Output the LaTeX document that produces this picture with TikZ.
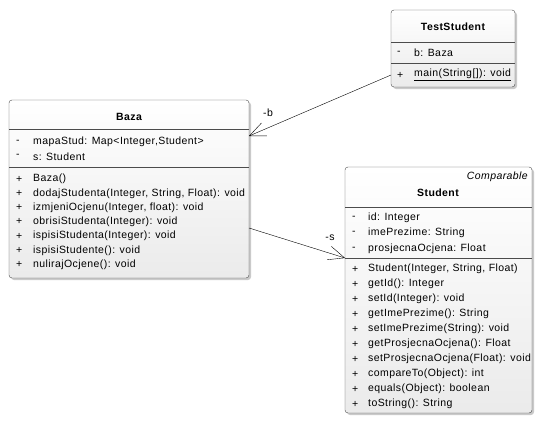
\documentclass[tikz,border=0pt]{standalone}
\usepackage{fontspec}
\setmainfont[LetterSpace=4]{Liberation Sans}
\usetikzlibrary{arrows.meta,shadows}

\tikzset{
  classbox/.style = {shape=rectangle, rounded corners=3pt, draw=black!70,
    inner sep=0pt, outer sep=0pt, anchor=north west,
    top color=white, bottom color=gray!16,
    drop shadow={shadow xshift=2pt, shadow yshift=-2pt, fill=gray!70, opacity=.6}},
  divider/.style = {draw=black!70},
  row/.style = {anchor=west, inner sep=0pt, font=\fontsize{10.5}{12}\selectfont},
  title/.style = {inner sep=0pt, font=\fontsize{10.5}{12}\selectfont\bfseries},
  role/.style = {inner sep=0pt, font=\fontsize{10.5}{12}\selectfont},
  assoc/.style = {draw, -{Straight Barb[length=16pt, width=14pt]}}
}

\begin{document}
\begin{tikzpicture}[x=1pt, y=-1pt]
  \useasboundingbox (0,0) rectangle (543,423);

  % TestStudent
  \node[classbox, minimum width=124pt, minimum height=77pt] (test) at (391,10) {};
  \node[title] (testname) at (453,27) {TestStudent};
  \draw[divider] (test.west |- 0,42) -- (test.east |- 0,42);
  \draw[divider] (test.west |- 0,63) -- (test.east |- 0,63);
  \node[row] (testv1) at (397,53) {-};
  \node[row] (testa1) at (414,53) {b: Baza};
  \node[row] (testv2) at (397,75) {+};
  \node[row] (testm1) at (414,75) {\underline{main(String[]): void}};

  % Baza
  \node[classbox, minimum width=240pt, minimum height=178pt] (baza) at (9,100) {};
  \node[title] (bazaname) at (129,117) {Baza};
  \draw[divider] (baza.west |- 0,129) -- (baza.east |- 0,129);
  \draw[divider] (baza.west |- 0,167) -- (baza.east |- 0,167);
  \foreach \txt [count=\i] in {{mapaStud: Map<Integer,Student>}, {s: Student}} {
    \node[row] at (16,127.7+14.3*\i) {-};
    \node[row] at (33,127.7+14.3*\i) {\txt};
  }
  \foreach \txt [count=\i] in {Baza(), {dodajStudenta(Integer, String, Float): void},
      {izmjeniOcjenu(Integer, float): void}, {obrisiStudenta(Integer): void},
      {ispisiStudenta(Integer): void}, {ispisiStudente(): void},
      {nulirajOcjene(): void}} {
    \node[row] at (16,164.7+14.3*\i) {+};
    \node[row] at (33,164.7+14.3*\i) {\txt};
  }

  % Student
  \node[classbox, minimum width=187pt, minimum height=246pt] (student) at (345,167) {};
  \node[inner sep=0pt, anchor=east, font=\fontsize{10.5}{12}\selectfont\itshape]
    (iface) at (528,177) {Comparable};
  \node[title] (studentname) at (438,193) {Student};
  \draw[divider] (student.west |- 0,207) -- (student.east |- 0,207);
  \draw[divider] (student.west |- 0,258) -- (student.east |- 0,258);
  \foreach \txt [count=\i] in {{id: Integer}, {imePrezime: String},
      {prosjecnaOcjena: Float}} {
    \node[row] at (352,202.5+15.3*\i) {-};
    \node[row] at (368,202.5+15.3*\i) {\txt};
  }
  \foreach \txt [count=\i] in {{Student(Integer, String, Float)}, {getId(): Integer},
      {setId(Integer): void}, {getImePrezime(): String},
      {setImePrezime(String): void}, {getProsjecnaOcjena(): Float},
      {setProsjecnaOcjena(Float): void}, {compareTo(Object): int},
      {equals(Object): boolean}, {toString(): String}} {
    \node[row] at (352,254+15*\i) {+};
    \node[row] at (368,254+15*\i) {\txt};
  }

  % associations
  \draw[assoc] ([yshift=-65pt]test.north west) -- ([yshift=-36pt]baza.north east);
  \node[role] (rb) at (268,113) {-b};
  \draw[assoc] ([yshift=-128pt]baza.north east) -- ([yshift=-91pt]student.north west);
  \node[role] (rs) at (330,238) {-s};
\end{tikzpicture}
\end{document}
